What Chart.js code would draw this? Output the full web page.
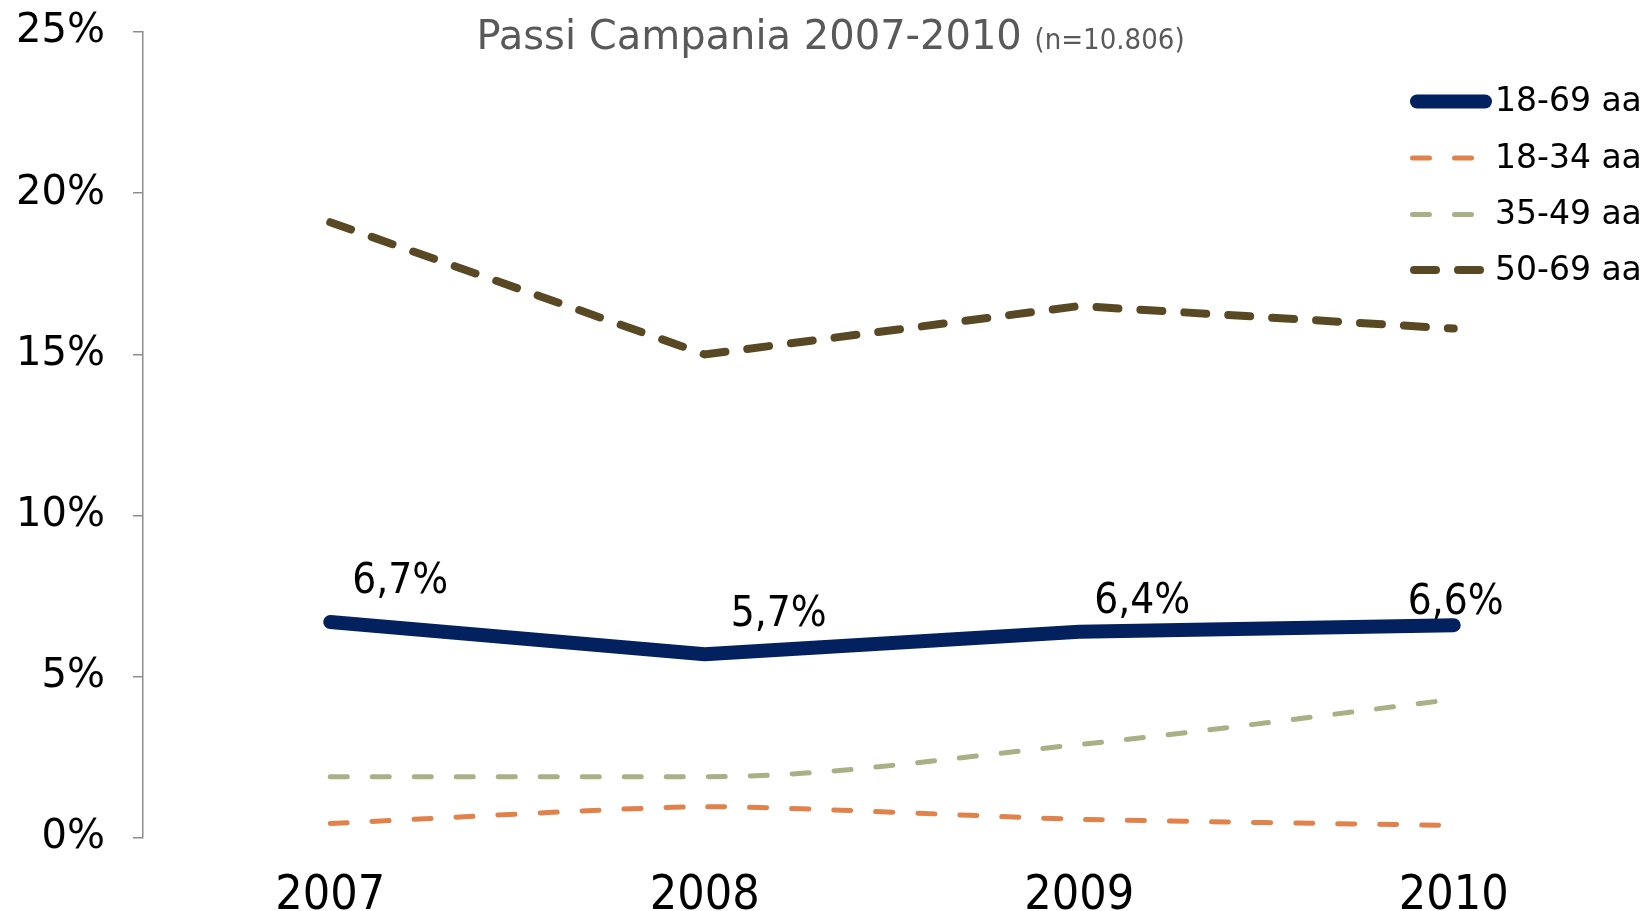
<!DOCTYPE html>
<html>
<head>
<meta charset="utf-8">
<script src="https://cdn.jsdelivr.net/npm/chart.js@4"></script>
<style>
  body { margin: 0; background: #fff; }
  #wrap { width: 1641px; height: 911px; }
</style>
</head>
<body>
<div id="wrap"><canvas id="passiChart" width="1641" height="911"></canvas></div>
<script>
const years = ["2007", "2008", "2009", "2010"];
const seriesNames = ["18-69 aa", "18-34 aa", "35-49 aa", "50-69 aa"];
const age1869 = [6.7, 5.7, 6.4, 6.6];
const age1834 = [0.45, 0.97, 0.58, 0.39];
const age3549 = [1.9, 1.9, 2.9, 4.3];
const age5069 = [19.1, 15.0, 16.5, 15.8];
const yMin = 0;
const yMax = 25;
const yStep = 5;

const titleMain = "Passi Campania 2007-2010";
const titleNote = "(n=10.806)";

// label offsets for the 18-69 values, relative to the point
const labelOffsets = [[70, -43], [74, -42], [63, -33], [2, -25]];

function pct(v) {
    return v.toFixed(1).replace(".", ",") + "%";
}

// Title drawn by hand (two font sizes on one line)
const titlePlugin = {
    id: "passiTitle",
    afterDraw(chart) {
        const ctx = chart.ctx;
        ctx.save();
        ctx.fillStyle = "#595959";
        ctx.textBaseline = "alphabetic";
        ctx.font = "40px 'DejaVu Sans'";
        const w1 = ctx.measureText(titleMain + " ").width;
        ctx.font = "29px 'DejaVu Sans Condensed', 'DejaVu Sans'";
        const w2 = ctx.measureText(titleNote).width;
        let x = chart.width / 2 + 10 - (w1 + w2) / 2;
        ctx.textAlign = "left";
        ctx.font = "40px 'DejaVu Sans'";
        ctx.fillText(titleMain + " ", x, 49);
        ctx.font = "29px 'DejaVu Sans Condensed', 'DejaVu Sans'";
        ctx.fillText(titleNote, x + w1, 49);
        ctx.restore();
    }
};

// Legend with line samples, top right
const legendPlugin = {
    id: "passiLegend",
    afterDatasetsDraw(chart) {
        const ctx = chart.ctx;
        const rowsY = [101.5, 158, 214.5, 270];
        ctx.save();
        chart.data.datasets.forEach((ds, i) => {
            const y = rowsY[i];
            const w = ds.borderWidth;
            ctx.beginPath();
            ctx.strokeStyle = ds.borderColor;
            ctx.lineWidth = w;
            ctx.lineCap = "round";
            ctx.setLineDash(ds.borderDash || []);
            ctx.moveTo(1410 + w / 2, y);
            ctx.lineTo(1492 - w / 2, y);
            ctx.stroke();
            ctx.setLineDash([]);
            ctx.fillStyle = "#000";
            ctx.font = "33px 'DejaVu Sans'";
            ctx.textAlign = "left";
            ctx.textBaseline = "middle";
            ctx.fillText(ds.label, 1495, y + 1);
        });
        ctx.restore();
    }
};

// Value labels for the total (18-69) series
const valueLabelPlugin = {
    id: "valueLabels",
    afterDatasetsDraw(chart) {
        const ctx = chart.ctx;
        const meta = chart.getDatasetMeta(0);
        ctx.save();
        ctx.fillStyle = "#000";
        ctx.font = "42px 'DejaVu Sans Condensed', 'DejaVu Sans'";
        ctx.textAlign = "center";
        ctx.textBaseline = "middle";
        meta.data.forEach((pt, i) => {
            const off = labelOffsets[i];
            ctx.fillText(pct(age1869[i]), pt.x + off[0], pt.y + off[1] + 3);
        });
        ctx.restore();
    }
};

const ctx = document.getElementById("passiChart").getContext("2d");
const chart = new Chart(ctx, {
    type: "line",
    data: {
        labels: years,
        datasets: [
            {
                label: seriesNames[0],
                data: age1869,
                borderColor: "#03215E",
                borderWidth: 14,
                borderCapStyle: "round",
                borderJoinStyle: "round",
                tension: 0,
                pointRadius: 0
            },
            {
                label: seriesNames[1],
                data: age1834,
                borderColor: "#E0824A",
                borderWidth: 5,
                borderDash: [17, 25],
                borderCapStyle: "round",
                tension: 0.2,
                pointRadius: 0
            },
            {
                label: seriesNames[2],
                data: age3549,
                borderColor: "#A8B085",
                borderWidth: 5,
                borderDash: [17, 25],
                borderCapStyle: "round",
                cubicInterpolationMode: "monotone",
                pointRadius: 0
            },
            {
                label: seriesNames[3],
                data: age5069,
                borderColor: "#584824",
                borderWidth: 8,
                borderDash: [22, 22],
                borderCapStyle: "round",
                tension: 0,
                pointRadius: 0
            }
        ]
    },
    options: {
        responsive: false,
        animation: false,
        layout: {
            padding: { top: 32, right: 0, bottom: 0, left: 0 }
        },
        plugins: {
            legend: { display: false },
            title: { display: false },
            tooltip: { enabled: false }
        },
        scales: {
            x: {
                offset: true,
                grid: { display: false, drawTicks: false },
                border: { display: false },
                ticks: {
                    color: "#000",
                    padding: 35,
                    font: { family: "'DejaVu Sans Condensed', 'DejaVu Sans'", size: 48, lineHeight: 1 }
                },
                afterFit(scale) {
                    scale.height = 73;
                    scale.paddingLeft = 0;
                    scale.paddingRight = 0;
                }
            },
            y: {
                min: yMin,
                max: yMax,
                grid: {
                    drawOnChartArea: false,
                    tickLength: 10,
                    color: "#8c8c8c",
                    lineWidth: 1.5
                },
                border: { display: true, color: "#8c8c8c", width: 1.5 },
                ticks: {
                    stepSize: yStep,
                    color: "#000",
                    padding: 28,
                    font: { family: "'DejaVu Sans'", size: 40 },
                    callback: v => v + "%"
                },
                afterFit(scale) {
                    scale.width = 143;
                    scale.paddingTop = 0;
                    scale.paddingBottom = 0;
                }
            }
        }
    },
    plugins: [titlePlugin, legendPlugin, valueLabelPlugin]
});
</script>
</body>
</html>
